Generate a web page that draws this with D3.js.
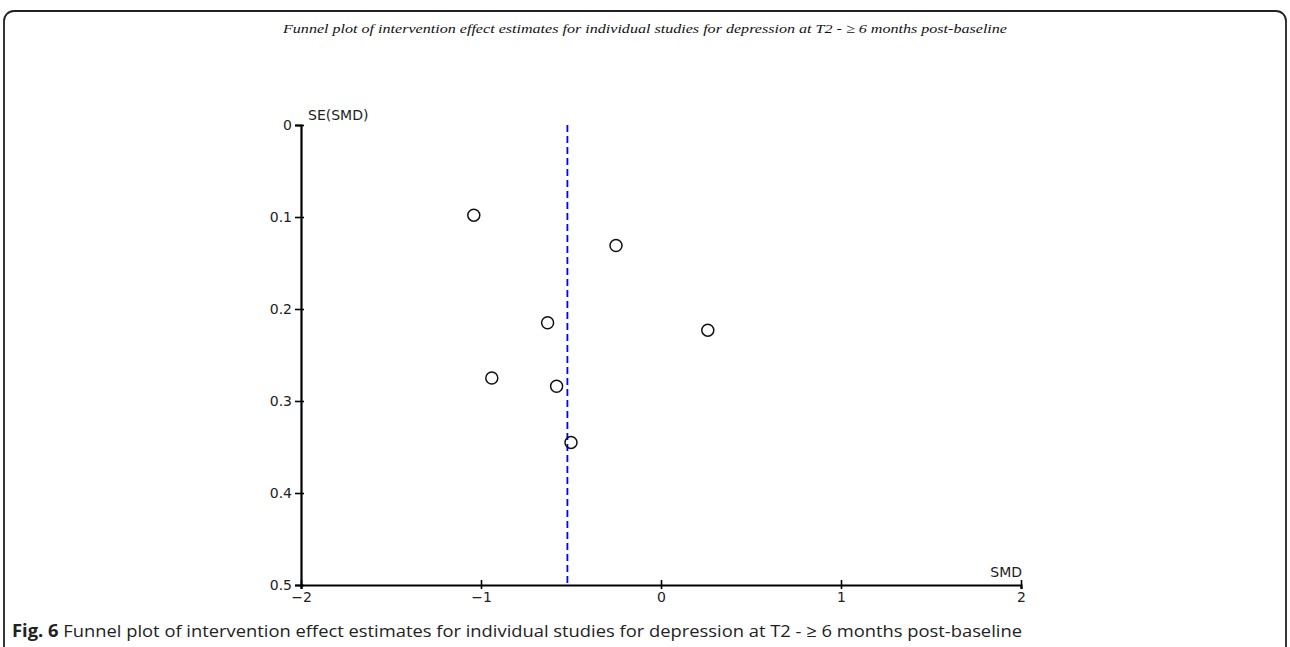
<!DOCTYPE html>
<html>
<head>
<meta charset="utf-8">
<script src="https://cdn.jsdelivr.net/npm/d3@7"></script>
<style>
    body { margin: 0; background: #fff; }
    svg { display: block; }
</style>
</head>
<body>
<div id="chart"></div>
<script>
// study estimates
const smd = [-1.04, -0.25, -0.63, 0.26, -0.94, -0.58, -0.50];
const seSmd = [0.098, 0.131, 0.215, 0.223, 0.275, 0.284, 0.345];
const pooledSmd = -0.52;
const xTicks = [-2, -1, 0, 1, 2];
const yTicks = [0, 0.1, 0.2, 0.3, 0.4, 0.5];

const titleText = "Funnel plot of intervention effect estimates for individual studies for depression at T2 - \u2265 6 months post-baseline";
const captionText = " Funnel plot of intervention effect estimates for individual studies for depression at T2 - \u2265 6 months post-baseline";

const width = 1290, height = 647;

const svg = d3.select("#chart")
    .append("svg")
    .attr("width", width)
    .attr("height", height);

// rounded frame (bottom edge runs off the page)
svg.append("rect")
    .attr("x", 4)
    .attr("y", 11)
    .attr("width", 1282)
    .attr("height", 660)
    .attr("rx", 10)
    .attr("fill", "none")
    .attr("stroke", "#222")
    .attr("stroke-width", 1.8);

svg.append("text")
    .attr("x", 645)
    .attr("y", 33)
    .attr("text-anchor", "middle")
    .attr("font-family", "Liberation Serif")
    .attr("font-style", "italic")
    .attr("font-size", 13)
    .attr("fill", "#111")
    .attr("textLength", 724)
    .attr("lengthAdjust", "spacingAndGlyphs")
    .text(titleText);

const x = d3.scaleLinear().domain([-2, 2]).range([301, 1021]);
const y = d3.scaleLinear().domain([0, 0.5]).range([125, 585]);

const fontAxis = "DejaVu Sans";

const yAxis = svg.append("g")
    .attr("transform", `translate(${x(-2)},0)`)
    .call(d3.axisLeft(y).tickValues(yTicks).tickSize(6).tickPadding(3)
        .tickFormat(d => d === 0 ? "0" : d3.format(".1f")(d)));

const xAxis = svg.append("g")
    .attr("transform", `translate(0,${y(0.5)})`)
    .call(d3.axisBottom(x).tickValues(xTicks).tickSize(4).tickPadding(3)
        .tickFormat(d => d < 0 ? "\u2212" + Math.abs(d) : String(d)));

[yAxis, xAxis].forEach(g => {
    g.select(".domain").attr("stroke", "#000").attr("stroke-width", 2.2);
    g.selectAll(".tick line").attr("stroke", "#000").attr("stroke-width", 1.6);
    g.selectAll(".tick text")
        .attr("font-family", fontAxis)
        .attr("font-size", 14)
        .attr("fill", "#222");
});

// ticks cross the axis a little
yAxis.selectAll(".tick line").attr("x1", 3);
xAxis.selectAll(".tick line").attr("y1", -5);

svg.append("text")
    .attr("x", x(-2) + 7)
    .attr("y", 120)
    .attr("font-family", fontAxis)
    .attr("font-size", 14)
    .attr("fill", "#222")
    .text("SE(SMD)");

svg.append("text")
    .attr("x", x(2) + 1)
    .attr("y", 577)
    .attr("text-anchor", "end")
    .attr("font-family", fontAxis)
    .attr("font-size", 14)
    .attr("fill", "#222")
    .text("SMD");

// pooled estimate
svg.append("line")
    .attr("x1", x(pooledSmd))
    .attr("x2", x(pooledSmd))
    .attr("y1", y(0))
    .attr("y2", y(0.5))
    .attr("stroke", "#0000ff")
    .attr("stroke-width", 1.8)
    .attr("stroke-dasharray", "7,4");

svg.append("g")
    .selectAll("circle")
    .data(smd.map((d, i) => ({smd: d, se: seSmd[i]})))
    .join("circle")
    .attr("cx", d => x(d.smd))
    .attr("cy", d => y(d.se))
    .attr("r", 6)
    .attr("fill", "none")
    .attr("stroke", "#111")
    .attr("stroke-width", 1.5);

const caption = svg.append("text")
    .attr("x", 12)
    .attr("y", 637)
    .attr("font-family", "Open Sans")
    .attr("font-size", 17)
    .attr("fill", "#222")
    .attr("textLength", 1010)
    .attr("lengthAdjust", "spacingAndGlyphs");

caption.append("tspan")
    .attr("font-weight", "bold")
    .text("Fig. 6");

caption.append("tspan")
    .text(captionText);
</script>
</body>
</html>
